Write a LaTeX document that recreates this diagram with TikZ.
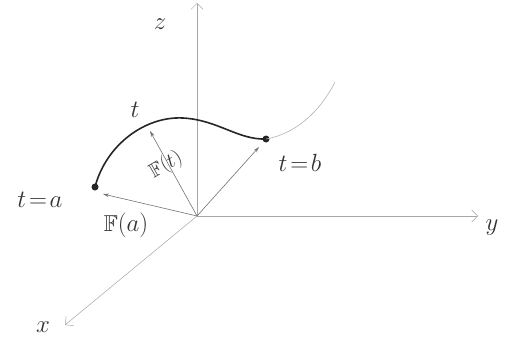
\documentclass[tikz,border=0pt]{standalone}
\usepackage{amssymb}
\usetikzlibrary{arrows.meta}
\begin{document}
\begin{tikzpicture}[x=1pt,y=1pt,
  axis/.style={draw=black!35,line width=0.5pt,-{Straight Barb[length=6pt,width=12pt]}},
  vec/.style={draw=black!55,line width=0.6pt,-{Stealth[length=6pt,width=3.5pt]}},
  curve/.style={draw=black!85,line width=1.6pt},
  faint/.style={draw=black!30,line width=0.6pt},
  pt/.style={circle,fill=black!85,inner sep=0pt,minimum size=7pt},
  lab/.style={font=\fontsize{23}{25}\selectfont,text=black!80,inner sep=1pt}]
\useasboundingbox (0,0) rectangle (506,-340);
\coordinate (O) at (197,-216);
\coordinate (zend) at (197,-3);
\coordinate (yend) at (478,-216);
\coordinate (xend) at (65,-325);
\draw[axis] (O) -- (zend);
\draw[axis] (O) -- (yend);
\draw[axis] (O) -- (xend);
\node[lab] (zl) at (160,-24) {$z$};
\node[lab] (yl) at (492,-228) {$y$};
\node[lab] (xl) at (43,-327) {$x$};
\node[pt] (a) at (95,-187) {};
\node[pt] (b) at (266,-139) {};
\coordinate (ft) at (150,-131);
\coordinate (fa) at (103,-194);
\coordinate (fb) at (259,-147);
\coordinate (c1) at (335,-82);
\draw[faint] (b.center) .. controls (295,-134) and (320,-112) .. (c1);
\draw[curve] (a.center) .. controls (106,-145) and (145,-116) .. (183,-118) .. controls (218,-120) and (238,-140) .. (b.center);
\draw[vec] (O) -- (ft);
\draw[vec] (O) -- (fa);
\draw[vec] (O) -- (fb);
\node[lab] (tl) at (135,-110) {$t$};
\node[lab,rotate=30,font=\fontsize{20}{22}\selectfont] (ftl) at (166,-165) {$\mathbb{F}(t)$};
\node[lab] (fal) at (126,-225) {$\mathbb{F}(a)$};
\node[lab] (tal) at (40,-200) {$t\!=\!a$};
\node[lab] (tbl) at (300,-163) {$t\!=\!b$};
\end{tikzpicture}
\end{document}
